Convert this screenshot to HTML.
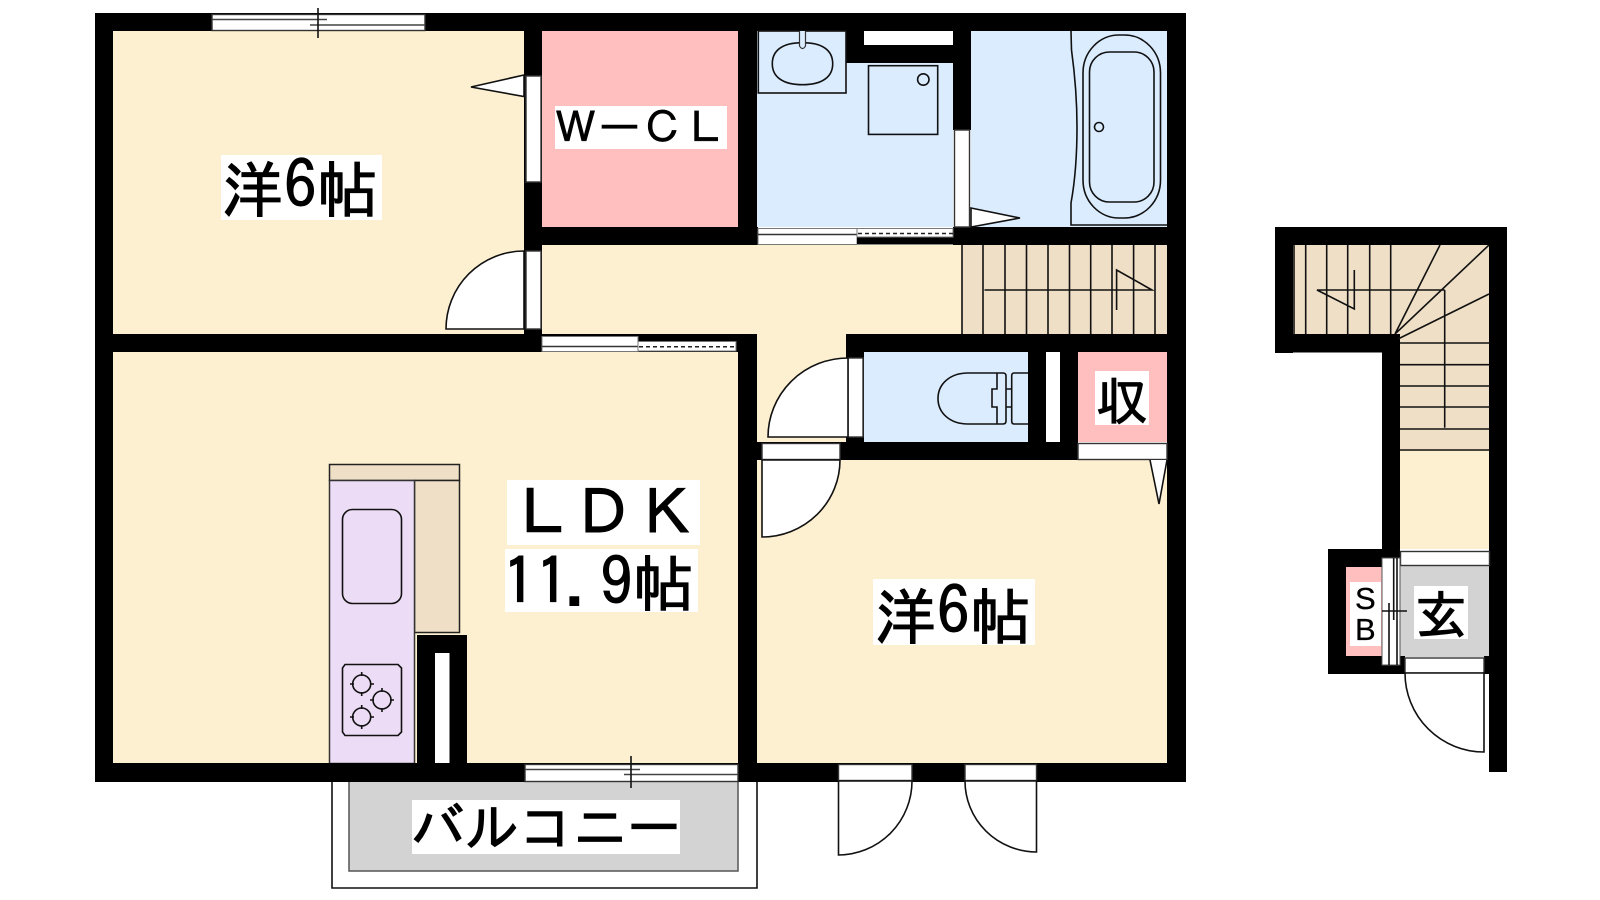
<!DOCTYPE html>
<html lang="ja">
<head>
<meta charset="utf-8">
<title>Floor plan</title>
<style>
html,body{margin:0;padding:0;background:#fff;width:1600px;height:900px;overflow:hidden}
svg{display:block}
text{font-family:"IPAGothic","Liberation Sans","Noto Sans CJK JP",sans-serif;fill:#000;stroke:#000;stroke-width:1.1}
.l{fill:none;stroke:#111;stroke-width:1.6}
.w{fill:#fff;stroke:#333;stroke-width:1.4}
.d{fill:#fff;stroke:#111;stroke-width:1.6}
.g{stroke:#444;stroke-width:1.4}
</style>
</head>
<body>
<svg width="1600" height="900" viewBox="0 0 1600 900" xmlns="http://www.w3.org/2000/svg">
<!-- balcony -->
<path class="l" d="M332 775V888H757V775" stroke-width="1.4"/>
<rect x="349" y="778" width="389" height="93" fill="#d3d3d3" stroke="#555" stroke-width="1.5"/>
<!-- room fills -->
<rect x="113" y="31" width="411" height="303" fill="#fdf0d0"/>
<rect x="542" y="245" width="420" height="89" fill="#fdf0d0"/>
<rect x="113" y="352" width="625" height="411" fill="#fdf0d0"/>
<rect x="757" y="334" width="90" height="108" fill="#fdf0d0"/>
<rect x="757" y="460" width="411" height="303" fill="#fdf0d0"/>
<rect x="542" y="31" width="196" height="196" fill="#ffbfbf"/>
<rect x="757" y="31" width="196" height="196" fill="#dbecff"/>
<rect x="971" y="31" width="197" height="196" fill="#dbecff"/>
<rect x="864" y="352" width="164" height="90" fill="#dbecff"/>
<rect x="1078" y="352" width="90" height="90" fill="#ffbfbf"/>
<rect x="962" y="245" width="206" height="89" fill="#efdfc6"/>
<!-- right block fills -->
<rect x="1293" y="245" width="197" height="89" fill="#efdfc6"/>
<rect x="1400" y="334" width="90" height="117" fill="#efdfc6"/>
<rect x="1400" y="451" width="90" height="98" fill="#fdf0d0"/>
<rect x="1400" y="566" width="90" height="91" fill="#d3d3d3"/>
<rect x="1346" y="567" width="36" height="89" fill="#ffbfbf"/>
<!-- kitchen -->
<rect x="329.500" y="464.500" width="130" height="16" fill="#efdfc6" stroke="#222" stroke-width="1.5"/>
<rect x="414.500" y="480.500" width="45" height="152" fill="#efdfc6" stroke="#222" stroke-width="1.5"/>
<rect x="329.500" y="480.500" width="85" height="283" fill="#eddcf5" stroke="#333" stroke-width="1.5"/>
<rect class="l" x="342.500" y="509.500" width="59" height="94" rx="10"/>
<path class="l" d="M345 664.500H398L401.500 668V732L398 735.500H345L342.500 732V668Z"/>
<g class="l">
<circle cx="361.700" cy="684" r="9"/><circle cx="382" cy="700" r="9"/><circle cx="361.700" cy="717" r="9"/>
<path d="M361.700 672v4M361.700 692v4M350 684h4M370 684h4M382 688v4M382 708v4M370 700h4M390 700h4M361.700 705v4M361.700 725v4M350 717h4M370 717h4"/>
</g>
<!-- walls -->
<g fill="#000">
<rect x="95" y="13" width="1091" height="18"/>
<rect x="95" y="13" width="18" height="769"/>
<rect x="1167" y="13" width="19" height="769"/>
<rect x="95" y="763" width="1091" height="19"/>
<rect x="95" y="334" width="447" height="18"/>
<rect x="524" y="13" width="18" height="339"/>
<rect x="524" y="227" width="234" height="18"/>
<rect x="738" y="13" width="19" height="232"/>
<rect x="953" y="227" width="233" height="18"/>
<rect x="846" y="31" width="107" height="32"/>
<rect x="953" y="31" width="18" height="99"/>
<rect x="542" y="334" width="215" height="18"/>
<rect x="738" y="334" width="19" height="448"/>
<rect x="846" y="334" width="340" height="18"/>
<rect x="846" y="334" width="18" height="126"/>
<rect x="757" y="442" width="321" height="18"/>
<rect x="1028" y="352" width="50" height="90"/>
<rect x="417" y="635" width="50" height="128"/>
<!-- right block walls -->
<rect x="1275" y="227" width="232" height="18"/>
<rect x="1275" y="227" width="18" height="126"/>
<rect x="1275" y="334" width="125" height="18.500"/>
<rect x="1382" y="334" width="18" height="236"/>
<rect x="1489" y="227" width="18" height="545"/>
<rect x="1328" y="549" width="72" height="18"/>
<rect x="1328" y="549" width="18" height="125"/>
<rect x="1328" y="656" width="77" height="18"/>
<rect x="1484" y="656" width="6" height="18"/>
</g>
<rect x="435" y="653" width="14.500" height="110" fill="#fff"/>
<rect x="864" y="31" width="89" height="14" fill="#fff"/>
<rect x="1046" y="352" width="14" height="90" fill="#fff"/>
<!-- top window -->
<rect class="w" x="212" y="14.500" width="213" height="16"/>
<path class="g" d="M212 19.500H327M310 25H425" stroke="#222"/>
<path class="l" d="M318 8V38"/>
<!-- bottom window -->
<rect class="w" x="525" y="764.500" width="213" height="17"/>
<path class="g" d="M525 769.500H640M624 774.500H738" stroke="#222"/>
<path class="l" d="M631 756V788"/>
<!-- wcl door -->
<rect class="w" x="526" y="76" width="15" height="106"/>
<path class="d" d="M524 75L471 87L524 96.500Z"/>
<!-- room1 door -->
<rect class="w" x="526" y="251" width="15" height="78"/>
<path class="d" d="M524 251A78 78 0 0 0 446 329H524Z"/>
<!-- bath door -->
<rect class="w" x="954.500" y="130" width="15" height="97"/>
<path class="d" d="M971 208L1020 218L971 227Z"/>
<!-- wash sliding door -->
<rect x="758" y="228.500" width="99" height="16" fill="#fff" stroke="#777" stroke-width="1"/>
<path d="M758 234.500H857" stroke="#333" stroke-width="1.400"/>
<rect x="857" y="237" width="96" height="7" fill="#000"/>
<rect x="857" y="228.500" width="96" height="8.500" fill="#fff" stroke="#777" stroke-width="1"/>
<path d="M858 233.500H953" stroke="#222" stroke-width="1.500" stroke-dasharray="4 3"/>
<path d="M857 244.500H953" stroke="#888" stroke-width="1"/>
<!-- hall sliding door -->
<rect x="542" y="336.500" width="96" height="15" fill="#fff" stroke="#777" stroke-width="1"/>
<path d="M542 346.500H638" stroke="#333" stroke-width="1.400"/>
<rect x="638" y="341.500" width="98" height="9.500" fill="#fff" stroke="#777" stroke-width="1"/>
<path d="M639 346.800H736" stroke="#222" stroke-width="1.500" stroke-dasharray="4 3"/>
<!-- wc door -->
<rect class="w" x="848" y="358" width="15" height="79"/>
<path class="d" d="M848 358A80 79 0 0 0 768 437H848Z"/>
<!-- closet door room3 -->
<rect class="w" x="762" y="443.500" width="78" height="16"/>
<path class="d" d="M762 460H840A78 77 0 0 1 762 537Z"/>
<!-- storage door -->
<rect class="w" x="1078" y="443.500" width="89" height="16"/>
<path class="d" d="M1150 460L1159 504L1167 460"/>
<!-- balcony doors -->
<rect class="w" x="838.500" y="764.500" width="73.500" height="16"/>
<path class="d" d="M838.500 781V855A74 74 0 0 0 912 781Z"/>
<rect class="w" x="965" y="764.500" width="71.500" height="16"/>
<path class="d" d="M1036.500 781V852A72 71 0 0 1 965 781Z"/>
<!-- wash fixtures -->
<rect class="l" x="758.300" y="31" width="87.700" height="62" stroke="#444"/>
<path class="l" d="M802.500 42.700C822 42.700 832.700 50 832.700 63.700C832.700 77 822 84.700 802.500 84.700C783 84.700 772.300 77 772.300 63.700C772.300 50 783 42.700 802.500 42.700Z"/>
<path d="M799.500 31V46Q802.500 51 805.500 46V31" fill="#dbecff" stroke="#333" stroke-width="1.200"/>
<rect class="l" x="868.500" y="65.700" width="69.200" height="68.700" stroke="#444"/>
<circle class="l" cx="923.300" cy="79.500" r="5.700"/>
<!-- tub -->
<path class="l" d="M1071 31L1071.500 50Q1077 90 1077 127Q1077 170 1071 203V225H1167" stroke="#444"/>
<rect class="l" x="1083" y="35" width="77.500" height="183" rx="36" ry="38"/>
<rect class="l" x="1089.500" y="52" width="64.500" height="150" rx="20"/>
<circle class="l" cx="1099" cy="127" r="4.500"/>
<!-- toilet -->
<path class="l" d="M968 373H1003Q1006 373 1006 376V421Q1006 424 1003 424H968C950 424 938 413 938 398.500C938 384 950 373 968 373ZM997 373V389H992V407H997V424M1028 373H1014Q1011.700 373 1011.700 376V421Q1011.700 424 1014 424H1028M1006 389H1011.700M1006 407H1011.700" stroke-width="1.500"/>
<!-- stairs 1 -->
<path class="l" d="M962 245V334M983 245V334M1005 245V334M1026.500 245V334M1048 245V334M1069.500 245V334M1090.700 245V334M1112 245V334M1133.600 245V334M1155 245V334M984.500 290H1152L1116.600 270V310"/>
<!-- stairs 2 -->
<path class="l" d="M1294 245V334M1305.700 245V334M1326.700 245V334M1347.700 245V334M1369.700 245V334M1390.700 245V334M1395 334L1440 245M1395 334L1489 245M1398 339L1489 294M1400 343H1490M1400 364.700H1490M1400 386H1490M1400 407H1490M1400 429H1490M1400 450H1490M1444.700 290V427.700M1444.700 290H1317L1354.300 309V270"/>
<!-- entrance -->
<rect class="w" x="1400.500" y="551.500" width="89" height="14"/>
<rect x="1382" y="558" width="18" height="107" fill="#fff" stroke="#555" stroke-width="1"/>
<path class="l" d="M1389 603V665M1393.700 558V620M1397 558V665M1382 611H1407"/>
<rect class="w" x="1405" y="658" width="79" height="15"/>
<path class="d" d="M1405 673A79 79 0 0 0 1484 752V673Z"/>
<!-- labels -->
<g fill="#fff">
<rect x="221" y="155" width="161" height="65"/>
<rect x="873" y="579" width="162" height="66"/>
<rect x="507" y="480" width="193" height="65"/>
<rect x="505" y="549" width="193" height="63"/>
<rect x="555" y="106" width="172" height="43"/>
<rect x="1095" y="371" width="54" height="54"/>
<rect x="1414" y="586" width="54" height="53"/>
<rect x="1350" y="582" width="31" height="64"/>
<rect x="412" y="800" width="268" height="54"/>
</g>
<text x="222" y="212" font-size="61">洋</text>
<text x="284" y="208" font-size="65">6</text>
<text x="317" y="212" font-size="61">帖</text>
<text x="875" y="639" font-size="61">洋</text>
<text x="937" y="634" font-size="65">6</text>
<text x="970" y="639" font-size="61">帖</text>
<text y="535" font-size="62"><tspan x="512">Ｌ</tspan><tspan x="572">Ｄ</tspan><tspan x="636">Ｋ</tspan></text>
<text y="605" font-size="65"><tspan x="503">1</tspan><tspan x="536">1</tspan><tspan x="564">.</tspan><tspan x="600">9</tspan></text>
<text x="633" y="606" font-size="61">帖</text>
<text y="143" font-size="43" style="stroke-width:.5"><tspan x="554">Ｗ</tspan><tspan x="598">ー</tspan><tspan x="641">Ｃ</tspan><tspan x="684">Ｌ</tspan></text>
<text x="1096" y="420" font-size="52">収</text>
<text x="1415" y="634" font-size="52">玄</text>
<text x="1355" y="609" font-size="31" style="font-family:'Liberation Sans',sans-serif;stroke-width:.3">S</text>
<text x="1355" y="640" font-size="31" style="font-family:'Liberation Sans',sans-serif;stroke-width:.3">B</text>
<text x="411" y="847" font-size="54">バルコニー</text>
</svg>
</body>
</html>
